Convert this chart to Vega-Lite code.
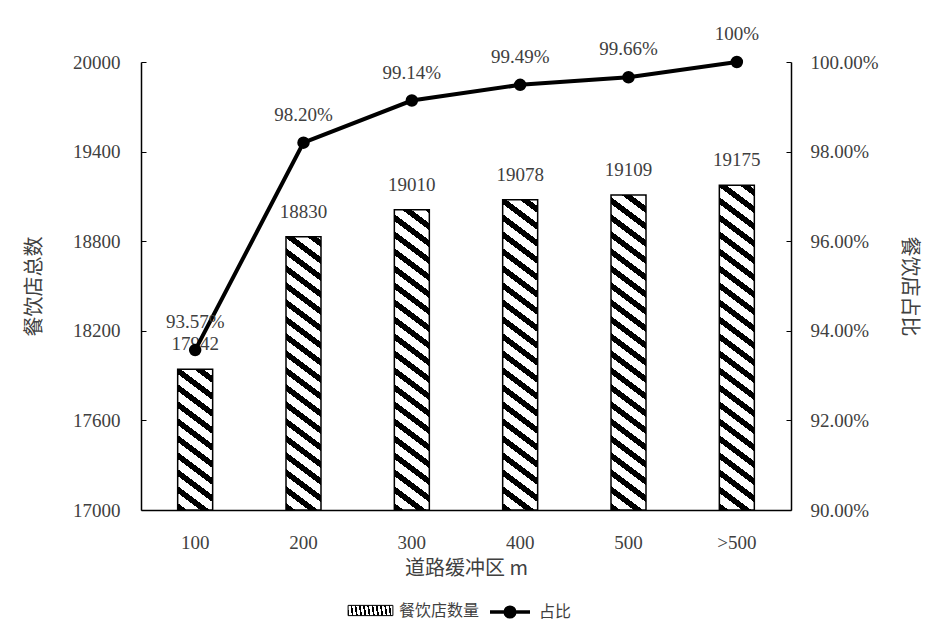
{
  "$schema": "https://vega.github.io/schema/vega-lite/v6.json",
  "width": 650,
  "height": 448,
  "autosize": {"type": "none"},
  "padding": {"left": 141, "top": 62, "right": 141, "bottom": 122},
  "background": "white",
  "config": {
    "view": {"stroke": null},
    "axis": {"grid": false, "domainColor": "black", "domainWidth": 1.5, "tickColor": "black", "labelColor": "#404040", "titleColor": "#404040", "labelFont": "Liberation Serif", "labelFontSize": 19, "titleFont": "Noto Sans CJK SC", "titleFontSize": 20, "titleFontWeight": "normal"},
    "legend": {"padding": 0, "labelFont": "Noto Sans CJK SC", "labelFontSize": 16, "labelColor": "#404040"}
  },
  "params": [
    {"name": "hatch", "value": [
      {"offset":0,"color":"black"},{"offset":0.0194,"color":"black"},
      {"offset":0.0194,"color":"white"},{"offset":0.0472,"color":"white"},
      {"offset":0.0472,"color":"black"},{"offset":0.0667,"color":"black"},
      {"offset":0.0667,"color":"white"},{"offset":0.0944,"color":"white"},
      {"offset":0.0944,"color":"black"},{"offset":0.1139,"color":"black"},
      {"offset":0.1139,"color":"white"},{"offset":0.1417,"color":"white"},
      {"offset":0.1417,"color":"black"},{"offset":0.1611,"color":"black"},
      {"offset":0.1611,"color":"white"},{"offset":0.1889,"color":"white"},
      {"offset":0.1889,"color":"black"},{"offset":0.2083,"color":"black"},
      {"offset":0.2083,"color":"white"},{"offset":0.2361,"color":"white"},
      {"offset":0.2361,"color":"black"},{"offset":0.2556,"color":"black"},
      {"offset":0.2556,"color":"white"},{"offset":0.2833,"color":"white"},
      {"offset":0.2833,"color":"black"},{"offset":0.3028,"color":"black"},
      {"offset":0.3028,"color":"white"},{"offset":0.3306,"color":"white"},
      {"offset":0.3306,"color":"black"},{"offset":0.35,"color":"black"},
      {"offset":0.35,"color":"white"},{"offset":0.3778,"color":"white"},
      {"offset":0.3778,"color":"black"},{"offset":0.3972,"color":"black"},
      {"offset":0.3972,"color":"white"},{"offset":0.425,"color":"white"},
      {"offset":0.425,"color":"black"},{"offset":0.4444,"color":"black"},
      {"offset":0.4444,"color":"white"},{"offset":0.4722,"color":"white"},
      {"offset":0.4722,"color":"black"},{"offset":0.4917,"color":"black"},
      {"offset":0.4917,"color":"white"},{"offset":0.5194,"color":"white"},
      {"offset":0.5194,"color":"black"},{"offset":0.5389,"color":"black"},
      {"offset":0.5389,"color":"white"},{"offset":0.5667,"color":"white"},
      {"offset":0.5667,"color":"black"},{"offset":0.5861,"color":"black"},
      {"offset":0.5861,"color":"white"},{"offset":0.6139,"color":"white"},
      {"offset":0.6139,"color":"black"},{"offset":0.6333,"color":"black"},
      {"offset":0.6333,"color":"white"},{"offset":0.6611,"color":"white"},
      {"offset":0.6611,"color":"black"},{"offset":0.6806,"color":"black"},
      {"offset":0.6806,"color":"white"},{"offset":0.7083,"color":"white"},
      {"offset":0.7083,"color":"black"},{"offset":0.7278,"color":"black"},
      {"offset":0.7278,"color":"white"},{"offset":0.7556,"color":"white"},
      {"offset":0.7556,"color":"black"},{"offset":0.775,"color":"black"},
      {"offset":0.775,"color":"white"},{"offset":0.8028,"color":"white"},
      {"offset":0.8028,"color":"black"},{"offset":0.8222,"color":"black"},
      {"offset":0.8222,"color":"white"},{"offset":0.85,"color":"white"},
      {"offset":0.85,"color":"black"},{"offset":0.8694,"color":"black"},
      {"offset":0.8694,"color":"white"},{"offset":0.8972,"color":"white"},
      {"offset":0.8972,"color":"black"},{"offset":0.9167,"color":"black"},
      {"offset":0.9167,"color":"white"},{"offset":0.9444,"color":"white"},
      {"offset":0.9444,"color":"black"},{"offset":0.9639,"color":"black"},
      {"offset":0.9639,"color":"white"},{"offset":0.9917,"color":"white"},
      {"offset":0.9917,"color":"black"},{"offset":1,"color":"black"}
    ]},
    {"name": "lhatch", "value": [
      {"offset":0,"color":"black"},{"offset":0.2,"color":"black"},
      {"offset":0.2,"color":"white"},{"offset":0.26,"color":"white"},
      {"offset":0.26,"color":"black"},{"offset":0.45,"color":"black"},
      {"offset":0.45,"color":"white"},{"offset":0.51,"color":"white"},
      {"offset":0.51,"color":"black"},{"offset":0.7,"color":"black"},
      {"offset":0.7,"color":"white"},{"offset":0.76,"color":"white"},
      {"offset":0.76,"color":"black"},{"offset":1,"color":"black"}
    ]},
    {"name": "hx", "value": {"100": 0.4615, "200": 0.12538, "300": 0.104092, "400": 0.097443, "500": 0.094616, ">500": 0.088998}},
    {"name": "hy", "value": {"100": -1.47309, "200": -0.3053, "300": -0.19026, "400": -0.1519, "500": -0.13517, ">500": -0.1012}}
  ],
  "data": {"values": [
    {"buffer": "100", "count": 17942, "ratio": 0.9357, "ratioLabel": "93.57%"},
    {"buffer": "200", "count": 18830, "ratio": 0.982, "ratioLabel": "98.20%"},
    {"buffer": "300", "count": 19010, "ratio": 0.9914, "ratioLabel": "99.14%"},
    {"buffer": "400", "count": 19078, "ratio": 0.9949, "ratioLabel": "99.49%"},
    {"buffer": "500", "count": 19109, "ratio": 0.9966, "ratioLabel": "99.66%"},
    {"buffer": ">500", "count": 19175, "ratio": 1.0, "ratioLabel": "100%"}
  ]},
  "encoding": {
    "x": {"field": "buffer", "type": "nominal", "sort": null,
      "scale": {"paddingInner": 0.677, "paddingOuter": 0.3385},
      "axis": {"title": "道路缓冲区 m", "labelAngle": 0, "ticks": false, "labelPadding": 23, "titlePadding": 6}}
  },
  "layer": [
    {
      "encoding": {
        "y": {"field": "count", "type": "quantitative",
          "scale": {"domain": [17000, 20000], "zero": false, "nice": false},
          "axis": {"title": "餐饮店总数", "orient": "left", "values": [17000, 17600, 18200, 18800, 19400, 20000], "format": "d", "tickSize": -5, "labelPadding": 26, "titlePadding": 28}}
      },
      "layer": [
        {
          "mark": {"type": "bar", "strokeWidth": 1.5,
            "fill": {"expr": "{gradient: 'linear', x1: 0, y1: 1, x2: hx[datum.buffer], y2: hy[datum.buffer], stops: hatch}"}},
          "encoding": {
            "y2": {"datum": 17000},
            "stroke": {"datum": "餐饮店数量", "type": "nominal",
              "scale": {"range": ["black"]},
              "legend": {
                "title": null, "orient": "none", "legendX": 213, "legendY": 532,
                "symbolType": "M-1.4,-0.32H1.4V0.32H-1.4Z", "symbolSize": 1024, "symbolStrokeWidth": 1,
                "labelOffset": 12,
                "encode": {"symbols": {"update": {
                  "fill": {"signal": "{gradient: 'linear', x1: 0, y1: 0, x2: 1, y2: 0.4, stops: lhatch}"},
                  "stroke": {"value": "black"},
                  "opacity": {"value": 1}
                }}}
              }}
          }
        },
        {
          "mark": {"type": "text", "baseline": "middle", "dy": -25, "font": "Liberation Serif", "fontSize": 19, "color": "#404040"},
          "encoding": {"text": {"field": "count", "type": "quantitative", "format": "d"}}
        }
      ]
    },
    {
      "encoding": {
        "y": {"field": "ratio", "type": "quantitative",
          "scale": {"domain": [0.9, 1.0], "zero": false, "nice": false},
          "axis": {"title": "餐饮店占比", "orient": "right", "values": [0.9, 0.92, 0.94, 0.96, 0.98, 1.0], "format": ".2%", "tickSize": -5, "labelPadding": 24, "titlePadding": 20}}
      },
      "layer": [
        {
          "mark": {"type": "line", "strokeWidth": 4, "color": "black",
            "point": {"filled": true, "fill": "black", "stroke": "black", "size": 110}},
          "encoding": {
            "opacity": {"datum": "占比", "type": "nominal",
              "scale": {"range": [1]},
              "legend": {
                "title": null, "orient": "none", "legendX": 351, "legendY": 532,
                "symbolType": "M-1.25,0H1.25M0.3,0A0.3,0.3 0 1 1 -0.3,0A0.3,0.3 0 1 1 0.3,0Z", "symbolSize": 1024,
                "symbolFillColor": "black", "symbolStrokeColor": "black",
                "labelOffset": 11,
                "encode": {"symbols": {"update": {
                  "fill": {"value": "black"},
                  "fillOpacity": {"value": 1},
                  "stroke": {"value": "black"},
                  "strokeWidth": {"value": 3.5},
                  "opacity": {"value": 1}
                }}}
              }}
          }
        },
        {
          "mark": {"type": "text", "baseline": "middle", "dy": -28, "font": "Liberation Serif", "fontSize": 19, "color": "#404040"},
          "encoding": {"text": {"field": "ratioLabel", "type": "nominal"}}
        }
      ]
    }
  ],
  "resolve": {"scale": {"y": "independent"}}
}
